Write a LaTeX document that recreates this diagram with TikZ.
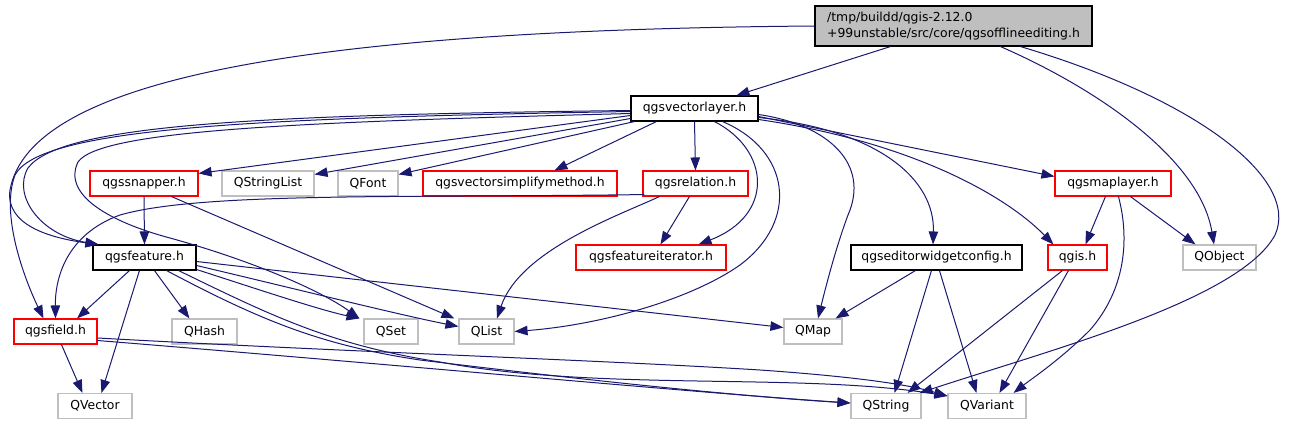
\documentclass[tikz,border=0pt]{standalone}
\usepackage{fontspec}
\newfontfamily\dvs{DejaVu Sans}
\usetikzlibrary{arrows.meta}
\definecolor{edgec}{RGB}{25,25,112}
\definecolor{grayb}{RGB}{191,191,191}
\definecolor{redb}{RGB}{255,0,0}
\definecolor{rootfill}{RGB}{191,191,191}
\begin{document}
\begin{tikzpicture}[x=1pt,y=-1pt,
  nbox/.style={rectangle, line width=1.1pt, inner sep=0pt, minimum height=25pt,
    font={\dvs\fontsize{12.4}{15.5}\selectfont}, text=black, fill=white},
  blkbox/.style={nbox, draw=black},
  redbox/.style={nbox, draw=redb},
  extbox/.style={nbox, draw=grayb},
  dep/.style={draw=edgec, line width=1pt, -{Triangle[length=13pt,width=9.5pt]}, fill=none},
]
\useasboundingbox (0,0) rectangle (1293,425);
% nodes
\node[nbox, draw=black, fill=rootfill, minimum width=277pt, minimum height=40pt, align=left] (root) at (953.5,26) {/tmp/buildd/qgis-2.12.0\\+99unstable/src/core/qgsofflineediting.h};
\node[blkbox, minimum width=127pt] (vl) at (694.5,108.5) {qgsvectorlayer.h};
\node[redbox, minimum width=108pt] (snap) at (144,183.5) {qgssnapper.h};
\node[extbox, minimum width=92pt] (qsl) at (268,183.5) {QStringList};
\node[extbox, minimum width=60pt] (qfont) at (368,183.5) {QFont};
\node[redbox, minimum width=194pt] (qvsm) at (520,183.5) {qgsvectorsimplifymethod.h};
\node[redbox, minimum width=105pt] (rel) at (695.5,183.5) {qgsrelation.h};
\node[redbox, minimum width=116pt] (qml) at (1113,183.5) {qgsmaplayer.h};
\node[blkbox, minimum width=103pt] (feat) at (144.5,257.5) {qgsfeature.h};
\node[redbox, minimum width=150pt] (qfi) at (651,257.5) {qgsfeatureiterator.h};
\node[blkbox, minimum width=171pt] (qewc) at (936.5,257.5) {qgseditorwidgetconfig.h};
\node[redbox, minimum width=59pt] (qgis) at (1077.5,257.5) {qgis.h};
\node[extbox, minimum width=73pt] (qobj) at (1219.5,257.5) {QObject};
\node[redbox, minimum width=83pt] (field) at (55.5,331.5) {qgsfield.h};
\node[extbox, minimum width=65pt] (qhash) at (204.5,331.5) {QHash};
\node[extbox, minimum width=54pt] (qset) at (391,331.5) {QSet};
\node[extbox, minimum width=55pt] (qlist) at (486.5,331.5) {QList};
\node[extbox, minimum width=58pt] (qmap) at (813,331.5) {QMap};
\node[extbox, minimum width=74pt] (qvec) at (95,406) {QVector};
\node[extbox, minimum width=70pt] (qstr) at (886,406) {QString};
\node[extbox, minimum width=78pt] (qvar) at (987,406) {QVariant};
% edges from root
\draw[dep] ([xshift=76]root.south west) -- ([xshift=106]vl.north west);
\draw[dep] (root.west) .. controls (300,30) and (30,80) .. (10,190) .. controls (5,225) and (50,238) .. ([xshift=6]feat.north west);
\draw[dep] ([xshift=186]root.south west) .. controls (1100,90) and (1200,160) .. ([xshift=-5.5]qobj.north);
\draw[dep] ([xshift=206]root.south west) .. controls (1200,100) and (1300,180) .. (1275,235) .. controls (1240,300) and (1050,350) .. ([xshift=-2]qstr.north east);
% edges from qgsvectorlayer.h
\draw[dep] ([yshift=-3]vl.west) .. controls (250,118) and (40,128) .. (15,175) .. controls (0,215) and (25,280) .. ([xshift=-12]field.north);
\draw[dep] ([yshift=-2]vl.west) .. controls (250,115) and (60,125) .. (28,168) .. controls (12,195) and (40,235) .. ([xshift=6]feat.north west);
\draw[dep] ([yshift=-5]vl.west) .. controls (300,122) and (100,130) .. (78,162) .. controls (62,195) and (110,222) .. (170,238) .. controls (250,260) and (320,290) .. ([xshift=-4]qset.north west);
\draw[dep] ([yshift=-7]vl.west) -- ([yshift=-3]snap.north east);
\draw[dep] ([yshift=-10]vl.west) -- ([yshift=-4]qsl.north east);
\draw[dep] ([xshift=4]vl.south west) -- ([yshift=-4]qfont.north east);
\draw[dep] ([xshift=26]vl.south west) -- ([xshift=132]qvsm.north west);
\draw[dep] (vl.south) -- (rel.north);
\draw[dep] ([yshift=-8]vl.east) -- ([yshift=-6]qml.north west);
\draw[dep] ([xshift=84]vl.south west) .. controls (770,150) and (775,215) .. ([xshift=-28]qfi.north east);
\draw[dep] ([xshift=92]vl.south west) .. controls (790,150) and (800,220) .. (740,265) .. controls (690,300) and (600,325) .. (qlist.east);
\draw[dep] ([yshift=-6]vl.east) .. controls (830,125) and (870,165) .. (848,215) .. controls (835,250) and (825,290) .. ([xshift=5]qmap.north);
\draw[dep] ([yshift=-9]vl.east) .. controls (880,130) and (935,180) .. ([xshift=-3.5]qewc.north);
\draw[dep] ([yshift=-11]vl.east) .. controls (900,140) and (1000,190) .. ([xshift=6]qgis.north west);
% qgsmaplayer.h
\draw[dep] ([xshift=51]qml.south west) -- ([xshift=38]qgis.north west);
\draw[dep] ([xshift=64]qml.south west) .. controls (1130,240) and (1125,290) .. (1090,330) .. controls (1060,360) and (1030,380) .. ([xshift=-13]qvar.north east);
\draw[dep] ([xshift=76]qml.south west) -- ([xshift=13]qobj.north west);
% qgsrelation.h
\draw[dep] ([xshift=47]rel.south west) -- ([xshift=85]qfi.north west);
\draw[dep] ([xshift=17]rel.south west) .. controls (620,215) and (520,250) .. ([xshift=10.5]qlist.north);
\draw[dep] ([xshift=2,yshift=2]rel.south west) .. controls (400,198) and (200,192) .. (120,215) .. controls (65,235) and (55,280) .. (field.north);
% qgssnapper.h
\draw[dep] (snap.south) -- (feat.north);
\draw[dep] ([xshift=82]snap.south west) -- ([xshift=-4]qlist.north west);
% qgsfeature.h
\draw[dep] ([xshift=37]feat.south west) -- ([xshift=21.5]field.north);
\draw[dep] ([xshift=47]feat.south west) -- ([xshift=44]qvec.north west);
\draw[dep] ([xshift=62]feat.south west) -- ([xshift=18]qhash.north west);
\draw[dep] ([yshift=-12]feat.east) .. controls (260,290) and (320,310) .. ([xshift=-4]qset.north west);
\draw[dep] ([yshift=-8]feat.east) .. controls (300,290) and (400,315) .. ([yshift=5]qlist.west);
\draw[dep] ([yshift=-4]feat.east) -- ([yshift=4]qmap.west);
\draw[dep] ([xshift=-30]feat.south east) .. controls (260,320) and (320,345) .. (420,360) .. controls (600,382) and (750,397) .. ([yshift=3]qstr.west);
\draw[dep] ([xshift=-18]feat.south east) .. controls (270,315) and (330,345) .. (440,362) .. controls (600,392) and (800,372) .. ([yshift=10]qvar.west);
% qgsfield.h
\draw[dep] ([xshift=48]field.south west) -- ([xshift=25]qvec.north west);
\draw[dep] ([yshift=-6.5]field.east) .. controls (350,352) and (600,360) .. (760,370) .. controls (860,377) and (910,385) .. ([yshift=10]qvar.west);
\draw[dep] ([yshift=-9]field.east) .. controls (400,365) and (700,393) .. ([yshift=3]qstr.west);
% qgseditorwidgetconfig.h
\draw[dep] ([xshift=65]qewc.south west) -- ([xshift=-7]qmap.north east);
\draw[dep] ([xshift=81]qewc.south west) -- ([xshift=-27]qstr.north east);
\draw[dep] ([xshift=89]qewc.south west) -- ([xshift=29]qvar.north west);
% qgis.h
\draw[dep] ([xshift=15]qgis.south west) -- ([xshift=-14]qstr.north east);
\draw[dep] ([xshift=21]qgis.south west) -- ([xshift=52]qvar.north west);
\end{tikzpicture}
\end{document}
